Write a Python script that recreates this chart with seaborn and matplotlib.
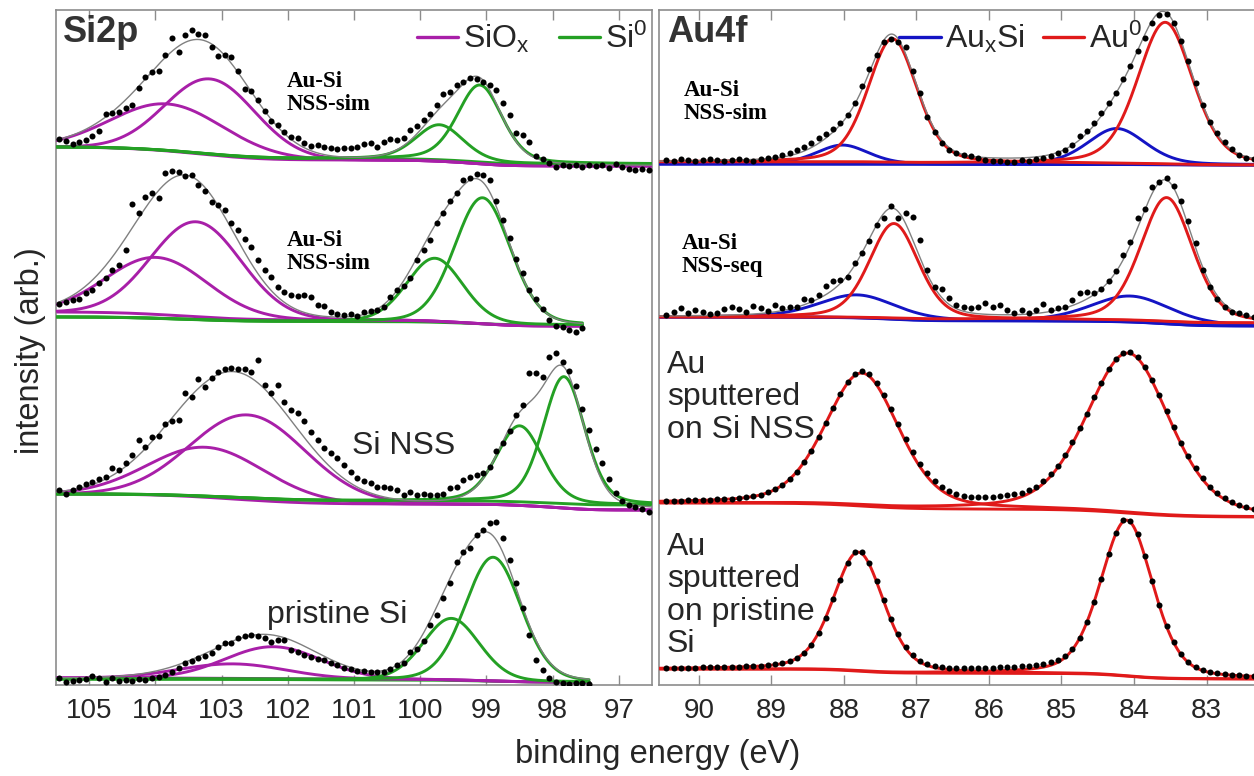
import numpy as np
import matplotlib
matplotlib.use("Agg")
import matplotlib.pyplot as plt
from matplotlib.lines import Line2D
import seaborn as sns

# ---------------- Si 2p spectra, top to bottom ----------------
si_names = ["Au-Si\nNSS-sim", "Au-Si\nNSS-sim", "Si NSS", "pristine Si"]
si_first_ev = 105.45
ev_step = 0.1

si_sim1 = [544, 542, 539, 541, 543, 547, 552, 569, 570, 571,
           575, 578, 595, 606, 611, 612, 628, 645, 631, 648,
           653, 649, 648, 636, 627, 628, 626, 612, 594, 592,
           583, 572, 562, 558, 551, 546, 545, 540, 537, 538,
           536, 535, 534, 535, 535, 536, 539, 540, 536, 541,
           544, 543, 545, 553, 557, 563, 569, 578, 589, 591,
           598, 601, 605, 604, 601, 598, 593, 580, 568, 550,
           548, 541, 527, 524, 520, 516, 518, 517, 518, 516,
           518, 517, 518, 515, 519, 516, 514, 513, 514, 513]
si_sim2 = [379, 381, 383, 384, 390, 393, 400, 405, 413, 418,
           433, 479, 470, 486, 490, 485, 510, 512, 511, 507,
           508, 498, 492, 481, 478, 473, 460, 453, 444, 436,
           423, 413, 406, 396, 391, 388, 387, 388, 386, 378,
           377, 371, 369, 368, 369, 367, 371, 372, 373, 376,
           386, 393, 397, 405, 423, 433, 443, 460, 470, 482,
           490, 503, 505, 509, 508, 503, 482, 463, 445, 424,
           410, 393, 384, 374, 363, 357, 356, 353, 351, 355]
si_nss = [193, 189, 193, 196, 199, 201, 204, 206, 215, 213,
          220, 228, 243, 236, 246, 247, 259, 262, 263, 290,
          286, 304, 296, 305, 311, 314, 315, 314, 314, 311,
          323, 298, 290, 298, 281, 273, 270, 262, 251, 243,
          235, 230, 225, 218, 211, 205, 202, 200, 196, 196,
          195, 193, 188, 191, 188, 189, 188, 188, 189, 195,
          196, 203, 206, 208, 210, 216, 232, 240, 252, 268,
          278, 310, 310, 306, 326, 330, 321, 312, 297, 274,
          253, 234, 220, 204, 190, 182, 178, 176, 174, 171]
si_pristine = [5, 1, 2, 3, 4, 7, 5, 1, 5, 2,
               3, 2, 4, 3, 5, 6, 8, 11, 15, 20,
               22, 25, 27, 30, 36, 40, 40, 45, 47, 48,
               47, 45, 41, 43, 43, 33, 31, 28, 26, 24,
               23, 20, 18, 15, 14, 12, 12, 11, 11, 11,
               14, 18, 20, 31, 34, 42, 58, 68, 85, 100,
               121, 131, 135, 148, 153, 160, 161, 145, 123, 100,
               75, 48, 23, 13, 5, 1, 0, -1, 0, 0,
               -1]
si_counts = [si_sim1, si_sim2, si_nss, si_pristine]

# fitted components: centre (eV), height, FWHM (eV)
siox_centre = [[103.17, 103.81], [103.38, 103.98], [102.60, 103.23], [102.22, 102.83]]
siox_height = [[76, 47], [95, 57], [85, 50], [32, 14.5]]
siox_fwhm = [[1.6, 2.0], [1.6, 1.8], [2.05, 2.05], [1.7, 1.9]]
si0_centre = [[99.71, 99.10], [99.78, 99.06], [98.50, 97.83], [99.53, 98.90]]
si0_height = [[35, 77], [64, 126], [76, 127], [62, 124]]
si0_fwhm = [[0.85, 0.8], [1.0, 1.0], [0.82, 0.74], [1.0, 1.0]]
si0_lorentz = [0.3, 0.15, 0.25, 0.15]
# Shirley background levels (high-BE end, low-BE end)
siox_bg = [(536, 517), (371, 357), (189, 173), (5, 1)]
si0_bg = [(536, 519), (366, 358), (189, 178), (4, 1)]
si_fit_range = [(105.5, 96.5), (105.5, 97.55), (105.5, 96.5), (105.5, 97.45)]

# ---------------- Au 4f spectra, top to bottom ----------------
au_names = ["Au-Si\nNSS-sim", "Au-Si\nNSS-seq", "Au\nsputtered\non Si NSS",
            "Au\nsputtered\non pristine\nSi"]
au_first_ev = 90.45

au_sim = [523, 522, 524, 523, 522, 523, 524, 523, 522, 523,
          524, 523, 522, 524, 525, 526, 528, 530, 533, 536,
          540, 545, 549, 554, 560, 568, 580, 597, 614, 628,
          641, 644, 641, 636, 612, 590, 566, 551, 540, 533,
          530, 528, 527, 525, 523, 522, 522, 521, 521, 523,
          522, 524, 525, 527, 530, 533, 538, 547, 552, 560,
          570, 580, 590, 604, 617, 632, 645, 660, 668, 669,
          660, 642, 622, 600, 578, 561, 550, 541, 534, 528,
          525, 524]
au_seq = [368, 371, 375, 370, 373, 371, 369, 370, 374, 376,
          374, 371, 377, 375, 372, 378, 375, 376, 376, 384,
          383, 388, 397, 402, 403, 406, 420, 430, 442, 458,
          465, 477, 465, 470, 466, 443, 413, 396, 394, 385,
          378, 376, 375, 376, 380, 376, 378, 373, 370, 373,
          370, 373, 379, 373, 375, 376, 383, 390, 391, 390,
          394, 402, 412, 428, 441, 465, 474, 496, 501, 505,
          497, 482, 462, 440, 413, 396, 384, 376, 371, 370,
          368, 366]
au_nss = [182, 182, 182, 183, 183, 183, 183, 184, 184, 184,
          185, 186, 187, 188, 191, 194, 198, 204, 211, 221,
          232, 246, 260, 275, 289, 301, 309, 312, 309, 300,
          288, 274, 259, 244, 231, 219, 210, 202, 196, 192,
          189, 187, 186, 186, 186, 186, 187, 188, 189, 190,
          193, 196, 202, 209, 217, 228, 241, 255, 269, 286,
          300, 314, 324, 330, 331, 326, 316, 303, 288, 272,
          256, 240, 227, 215, 205, 196, 190, 185, 181, 178,
          176, 174]
au_pristine = [15, 15, 15, 15, 15, 16, 16, 16, 16, 16,
               16, 17, 17, 17, 18, 19, 20, 22, 25, 30,
               38, 50, 65, 84, 103, 120, 131, 131, 120, 102,
               83, 64, 49, 36, 28, 22, 19, 17, 16, 15,
               15, 15, 15, 15, 15, 15, 16, 16, 16, 17,
               17, 18, 19, 21, 23, 27, 34, 45, 61, 81,
               104, 129, 150, 163, 162, 149, 127, 102, 78, 57,
               41, 29, 21, 16, 13, 11, 10, 9, 8, 8,
               7, 7]
au_counts = [au_sim, au_seq, au_nss, au_pristine]

au0_centre = [[87.33, 83.57], [87.31, 83.55], [87.75, 84.08], [87.80, 84.10]]
au0_height = [[124, 142], [95, 124], [133, 160], [119, 156]]
au0_fwhm = [[0.8, 0.9], [0.8, 0.85], [1.2, 1.35], [0.82, 0.85]]
auxsi_centre = [[88.02, 84.24], [87.82, 84.05], [], []]
auxsi_height = [[19, 36], [23, 26], [], []]
auxsi_fwhm = [[0.85, 0.95], [1.25, 1.3], [], []]
au_lorentz = 0.3
au0_bg = [(521, 518), (366, 360), (180, 166), (14, 4)]
auxsi_bg = [(519, 518), (366, 357), None, None]
au_fit_range = (90.6, 82.1)

# ---------------- styling ----------------
C_SIOX = "#a81fa8"
C_SI0 = "#24a024"
C_AUXSI = "#1414c4"
C_AU0 = "#e01a1a"
C_ENV = "#808080"
C_TEXT = "#262626"
C_SPINE = "#8c8c8c"

sns.set_theme(style="ticks")
plt.rcParams["font.family"] = ["Liberation Sans", "DejaVu Sans"]
plt.rcParams["mathtext.default"] = "regular"

W, H = 1254, 776
fig = plt.figure(figsize=(W / 100, H / 100), dpi=100)


def px_box(x0, x1, y_top, y_bot):
    return [x0 / W, 1 - y_bot / H, (x1 - x0) / W, (y_bot - y_top) / H]


ax_si = fig.add_axes(px_box(56, 652, 10, 685))
ax_au = fig.add_axes(px_box(659, 1266, 10, 685))


def pv(e, c, h, w, eta):
    u = (e - c) / w
    return h * ((1 - eta) * np.exp(-4 * np.log(2) * u ** 2) + eta / (1 + 4 * u ** 2))


def shirley(e, total, level_hi, level_lo):
    # e runs from high to low binding energy
    above = np.concatenate([[0.0], np.cumsum(0.5 * (total[1:] + total[:-1]) * -np.diff(e))])
    return level_hi - (level_hi - level_lo) * above / above[-1]


def line(ax, x, y, color, lw, z):
    sns.lineplot(x=x, y=y, ax=ax, color=color, linewidth=lw, estimator=None,
                 sort=False, legend=False, zorder=z)


def dots(ax, first, counts):
    e = first - ev_step * np.arange(len(counts))
    sns.scatterplot(x=e, y=np.asarray(counts, float), ax=ax, color="black", s=19,
                    linewidth=0, zorder=6, legend=False)


LW = 2.1
# Si 2p column
for i in range(4):
    e = np.linspace(si_fit_range[i][0], si_fit_range[i][1], 900)
    ox = [pv(e, c, h, w, 0.0) for c, h, w in zip(siox_centre[i], siox_height[i], siox_fwhm[i])]
    s0 = [pv(e, c, h, w, si0_lorentz[i]) for c, h, w in zip(si0_centre[i], si0_height[i], si0_fwhm[i])]
    total = sum(ox) + sum(s0)
    bg_ox = shirley(e, total, *siox_bg[i])
    bg_s0 = shirley(e, total, *si0_bg[i])
    line(ax_si, e, bg_ox, C_SIOX, LW, 2)
    line(ax_si, e, bg_s0, C_SI0, LW, 2.1)
    for p in ox:
        line(ax_si, e, bg_ox + p, C_SIOX, LW, 3)
    for p in s0:
        line(ax_si, e, bg_s0 + p, C_SI0, LW, 3.1)
    line(ax_si, e, bg_ox + total, C_ENV, 1.0, 4)
    dots(ax_si, si_first_ev, si_counts[i])

# Au 4f column
for i in range(4):
    e = np.linspace(au_fit_range[0], au_fit_range[1], 900)
    a0 = [pv(e, c, h, w, au_lorentz) for c, h, w in zip(au0_centre[i], au0_height[i], au0_fwhm[i])]
    ax_ = [pv(e, c, h, w, au_lorentz) for c, h, w in zip(auxsi_centre[i], auxsi_height[i], auxsi_fwhm[i])]
    total = sum(a0) + (sum(ax_) if ax_ else 0)
    bg_a0 = shirley(e, total, *au0_bg[i])
    if auxsi_bg[i] is not None:
        bg_ax = shirley(e, total, *auxsi_bg[i])
        line(ax_au, e, bg_ax, C_AUXSI, LW, 2)
        line(ax_au, e, bg_a0 + total, C_ENV, 1.0, 4)
    line(ax_au, e, bg_a0, C_AU0, LW, 2.1)
    for p in a0:
        line(ax_au, e, bg_a0 + p, C_AU0, LW, 3.1)
    for p in ax_:
        line(ax_au, e, bg_ax + p, C_AUXSI, LW, 3)
    dots(ax_au, au_first_ev, au_counts[i])

# axes cosmetics
for ax, lim, ticks in [(ax_si, (105.5, 96.5), range(105, 96, -1)),
                       (ax_au, (90.55, 82.18), range(90, 82, -1))]:
    ax.set_xlim(*lim)
    ax.set_ylim(-2, 673)
    ax.set_xticks(list(ticks))
    ax.set_xticklabels([str(t) for t in ticks])
    ax.set_yticks([])
    ax.set_xlabel("")
    ax.set_ylabel("")
    ax.tick_params(axis="x", direction="in", top=True, bottom=True, length=7, width=1,
                   color=C_SPINE, labelsize=20, labelcolor=C_TEXT, pad=9)
    for sp in ax.spines.values():
        sp.set_visible(True)
        sp.set_color(C_SPINE)
        sp.set_linewidth(1.2)
ax_au.spines["right"].set_visible(False)

# panel titles and legends
ax_si.text(0.012, 0.993, "Si2p", transform=ax_si.transAxes, ha="left", va="top",
           fontsize=26, fontweight="bold", color="#333333")
ax_au.text(0.014, 0.993, "Au4f", transform=ax_au.transAxes, ha="left", va="top",
           fontsize=26, fontweight="bold", color="#333333")

leg_kw = dict(frameon=False, fontsize=23, handlelength=1.3, handletextpad=0.15,
              ncol=2, borderaxespad=0.0, borderpad=0.0, labelcolor=C_TEXT)
leg = ax_si.legend([Line2D([], [], color=C_SIOX, lw=2.4), Line2D([], [], color=C_SI0, lw=2.4)],
                   ["SiO$_x$", "Si$^0$"], loc="center right", bbox_to_anchor=(0.992, 0.957),
                   columnspacing=0.9, **leg_kw)
leg.set_zorder(10)
leg = ax_au.legend([Line2D([], [], color=C_AUXSI, lw=2.4), Line2D([], [], color=C_AU0, lw=2.4)],
                   ["Au$_x$Si", "Au$^0$"], loc="center right", bbox_to_anchor=(0.796, 0.957),
                   columnspacing=0.55, **leg_kw)
leg.set_zorder(10)

# sample labels (pixel positions)
def label(x, y, s, **kw):
    fig.text(x / W, 1 - y / H, s, color=C_TEXT, **kw)

serif_kw = dict(family=["Liberation Serif", "DejaVu Serif"], fontweight="bold", fontsize=16.5,
                ha="left", va="top", linespacing=1.15, color="black")
fig.text(287 / W, 1 - 71 / H, si_names[0], **serif_kw)
fig.text(287 / W, 1 - 230 / H, si_names[1], **serif_kw)
label(404, 446, si_names[2], fontsize=23, ha="center", va="center")
label(337, 615, si_names[3], fontsize=23, ha="center", va="center")

fig.text(684 / W, 1 - 80 / H, au_names[0], **serif_kw)
fig.text(682 / W, 1 - 233 / H, au_names[1], **serif_kw)
label(667, 350, au_names[2], fontsize=23, ha="left", va="top", linespacing=1.1)
label(667, 532, au_names[3], fontsize=23, ha="left", va="top", linespacing=1.1)

label(658, 755, "binding energy (eV)", fontsize=23.5, ha="center", va="center")
label(31, 351, "intensity (arb.)", fontsize=23.5, ha="center", va="center", rotation=90)

fig.savefig("out.png", dpi=100)
